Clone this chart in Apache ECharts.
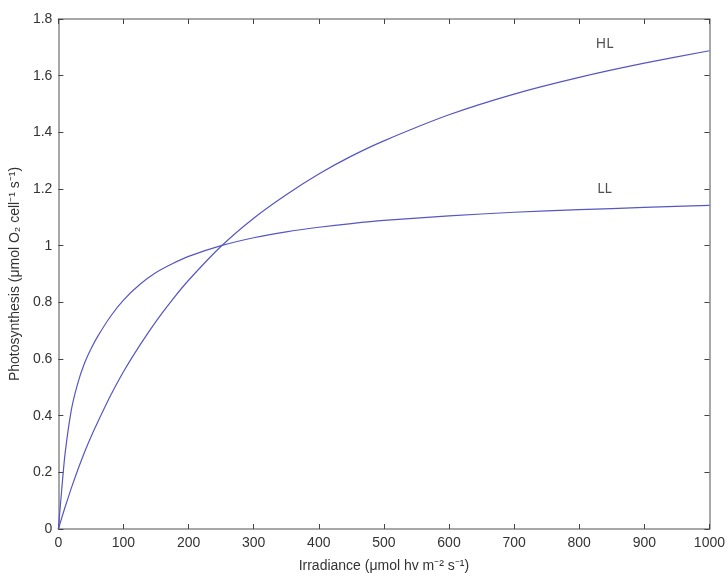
<!DOCTYPE html>
<html>
<head>
<meta charset="utf-8">
<script src="https://cdn.jsdelivr.net/npm/echarts@6/dist/echarts.min.js"></script>
<style>
  html, body { margin: 0; padding: 0; background: #fff; }
  #chart { width: 728px; height: 578px; }
</style>
</head>
<body>
<div id="chart"></div>
<script>
// irradiance points (x) and the two curves
const irradiance = [0, 5, 10, 20, 30, 40, 50, 60, 80, 100, 125, 150, 175, 200, 250, 300, 350, 400, 450, 500, 600, 700, 800, 900, 1000];
const hlValues = [0, 0.038, 0.075, 0.145, 0.21, 0.27, 0.325, 0.375, 0.47, 0.555, 0.648, 0.733, 0.809, 0.878, 0.998, 1.097, 1.18, 1.253, 1.316, 1.37, 1.462, 1.535, 1.594, 1.644, 1.688];
const llValues = [0, 0.135, 0.26, 0.421, 0.516, 0.584, 0.635, 0.678, 0.75, 0.808, 0.863, 0.905, 0.936, 0.962, 1.0, 1.028, 1.049, 1.065, 1.078, 1.089, 1.105, 1.118, 1.127, 1.135, 1.142];
// curve labels: [name, x, y]
const curveLabels = [["HL", 839, 1.71], ["LL", 839, 1.2]];

const axisColor = "#8a8a8a";
const textColor = "#333";
const lineColor = "#5656c4";
const font = "Liberation Sans, Arial, sans-serif";

const toPairs = (ys) => irradiance.map((x, i) => [x, ys[i]]);

// 坐标轴的公共样式
const baseX = {
  type: "value",
  min: 0,
  max: 1000,
  interval: 100,
  splitLine: { show: false },
  axisLine: { show: true, onZero: false, lineStyle: { color: axisColor, width: 1.5 } },
  axisTick: { show: true, inside: true, length: 5, lineStyle: { color: "#444" } },
};
const baseY = {
  type: "value",
  min: 0,
  max: 1.8,
  interval: 0.2,
  splitLine: { show: false },
  axisLine: { show: true, onZero: false, lineStyle: { color: axisColor, width: 1.5 } },
  axisTick: { show: true, inside: true, length: 5, lineStyle: { color: "#444" } },
};

const option = {
  animation: false,
  backgroundColor: "#fff",
  grid: { left: 57, right: 18, top: 19, bottom: 45 },
  xAxis: [
    {
      ...baseX,
      position: "bottom",
      name: "Irradiance (μmol hv m⁻² s⁻¹)",
      nameLocation: "middle",
      nameGap: 30,
      nameTextStyle: { color: textColor, fontSize: 14, fontFamily: font },
      axisLabel: {
        color: textColor,
        fontSize: 14,
        fontFamily: font,
        margin: 7,
        formatter: (v) => String(v),
      },
    },
    { ...baseX, position: "top", axisLabel: { show: false } },
  ],
  yAxis: [
    {
      ...baseY,
      position: "left",
      name: "Photosynthesis (μmol O₂ cell⁻¹ s⁻¹)",
      nameLocation: "middle",
      nameGap: 36,
      nameTextStyle: { color: textColor, fontSize: 14, fontFamily: font },
      axisLabel: {
        color: textColor,
        fontSize: 14,
        fontFamily: font,
        margin: 6,
        formatter: (v) => String(Math.round(v * 10) / 10),
      },
    },
    { ...baseY, position: "right", axisLabel: { show: false } },
  ],
  series: [
    {
      name: "HL",
      type: "line",
      data: toPairs(hlValues),
      smooth: 0.2,
      showSymbol: false,
      lineStyle: { color: lineColor, width: 1.2 },
    },
    {
      name: "LL",
      type: "line",
      data: toPairs(llValues),
      smooth: 0.2,
      showSymbol: false,
      lineStyle: { color: lineColor, width: 1.2 },
    },
    {
      name: "labels",
      type: "scatter",
      symbolSize: 0,
      data: curveLabels.map((d) => ({ name: d[0], value: [d[1], d[2]] })),
      label: {
        show: true,
        position: "inside",
        formatter: (p) => p.name,
        color: "#222",
        fontSize: 14,
        fontFamily: "Noto Sans, Open Sans, sans-serif",
      },
      silent: true,
    },
  ],
};

const chart = echarts.init(document.getElementById("chart"));
chart.setOption(option);
</script>
</body>
</html>
